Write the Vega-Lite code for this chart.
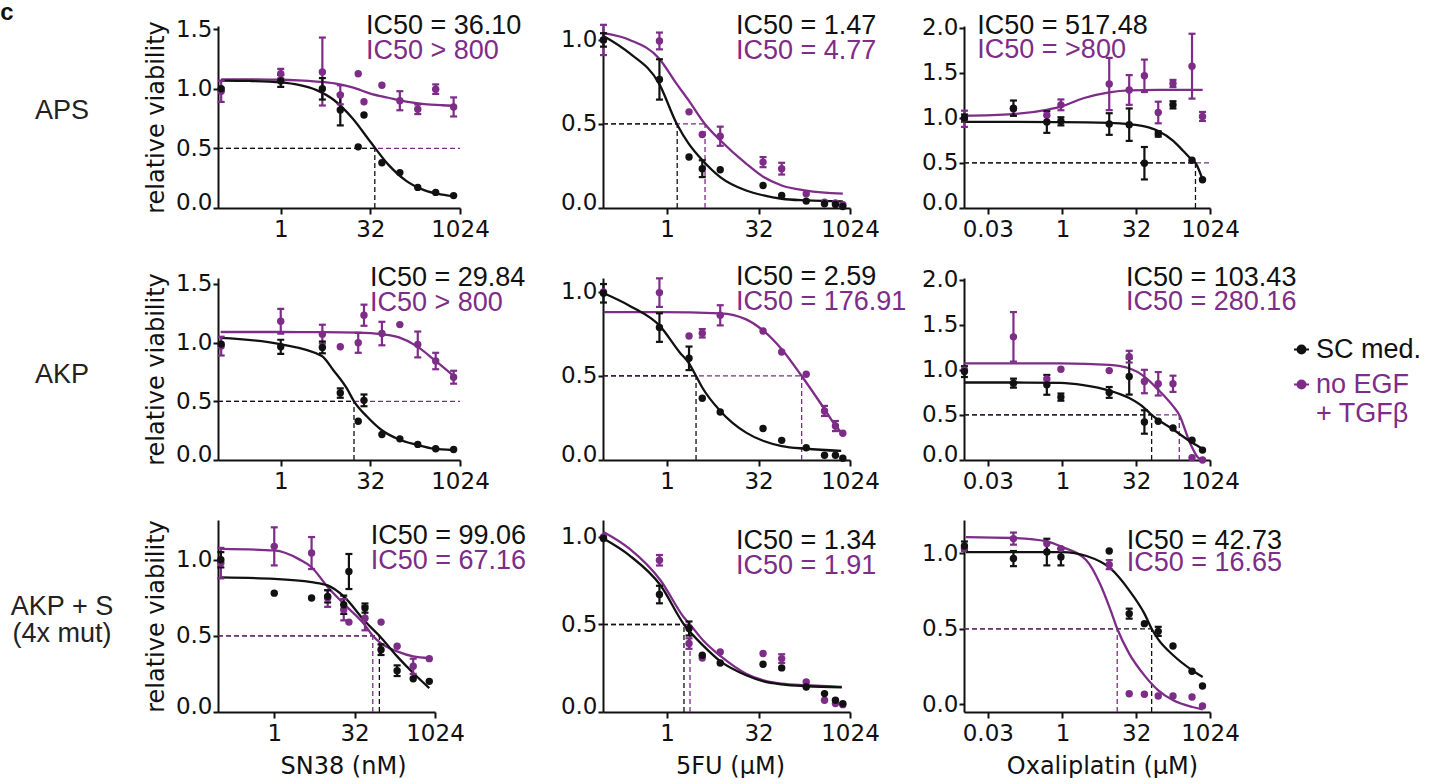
{
"$schema": "https://vega.github.io/schema/vega-lite/v6.json",
"padding": 0,
"background": "white",
"config": {
 "view": {"stroke": null},
 "axis": {"grid": false, "domainColor": "#111111", "domainWidth": 2, "tickColor": "#111111", "tickWidth": 2, "tickSize": 5, "labelColor": "#111111", "labelFont": "DejaVu Sans", "labelFontSize": 23, "labelFlush": false, "labelOverlap": false, "titleColor": "#111111", "titleFont": "DejaVu Sans", "titleFontSize": 24, "titleFontWeight": "normal"},
 "axisY": {"labelPadding": 1, "titlePadding": 7},
 "axisX": {"labelPadding": 4, "titlePadding": 9, "tickSize": 6}
},
"datasets": {
 "pts": [
  {"p":"p11","c":"EGF","d":0.1,"v":0.98,"lo":0.89,"hi":1.07},
  {"p":"p11","c":"EGF","d":1,"v":1.127,"lo":1.087,"hi":1.167},
  {"p":"p11","c":"EGF","d":5,"v":1.141,"lo":0.86,"hi":1.43},
  {"p":"p11","c":"EGF","d":10,"v":0.948,"lo":0.87,"hi":1.03},
  {"p":"p11","c":"EGF","d":20,"v":1.127},
  {"p":"p11","c":"EGF","d":25,"v":0.892},
  {"p":"p11","c":"EGF","d":50,"v":1.03},
  {"p":"p11","c":"EGF","d":100,"v":0.9,"lo":0.82,"hi":0.98},
  {"p":"p11","c":"EGF","d":200,"v":0.828,"lo":0.788,"hi":0.868},
  {"p":"p11","c":"EGF","d":400,"v":0.997,"lo":0.957,"hi":1.037},
  {"p":"p11","c":"EGF","d":800,"v":0.848,"lo":0.768,"hi":0.928},
  {"p":"p11","c":"SC","d":0.1,"v":1.0},
  {"p":"p11","c":"SC","d":1,"v":1.066,"lo":1.016,"hi":1.116},
  {"p":"p11","c":"SC","d":5,"v":1.0,"lo":0.91,"hi":1.09},
  {"p":"p11","c":"SC","d":10,"v":0.823,"lo":0.693,"hi":0.953},
  {"p":"p11","c":"SC","d":20,"v":0.513},
  {"p":"p11","c":"SC","d":25,"v":0.78},
  {"p":"p11","c":"SC","d":50,"v":0.38},
  {"p":"p11","c":"SC","d":100,"v":0.297},
  {"p":"p11","c":"SC","d":200,"v":0.173},
  {"p":"p11","c":"SC","d":400,"v":0.131},
  {"p":"p11","c":"SC","d":800,"v":0.104},

  {"p":"p12","c":"EGF","d":0.09,"v":1.0,"lo":0.91,"hi":1.09},
  {"p":"p12","c":"EGF","d":0.75,"v":0.994,"lo":0.944,"hi":1.044},
  {"p":"p12","c":"EGF","d":2.3,"v":0.572},
  {"p":"p12","c":"EGF","d":3.8,"v":0.437},
  {"p":"p12","c":"EGF","d":7.5,"v":0.427,"lo":0.37,"hi":0.484},
  {"p":"p12","c":"EGF","d":38,"v":0.273,"lo":0.243,"hi":0.303},
  {"p":"p12","c":"EGF","d":77,"v":0.234,"lo":0.199,"hi":0.269},
  {"p":"p12","c":"EGF","d":195,"v":0.085},
  {"p":"p12","c":"EGF","d":390,"v":0.035},
  {"p":"p12","c":"EGF","d":590,"v":0.03},
  {"p":"p12","c":"EGF","d":780,"v":0.02},
  {"p":"p12","c":"SC","d":0.09,"v":1.0,"lo":0.96,"hi":1.04},
  {"p":"p12","c":"SC","d":0.75,"v":0.765,"lo":0.645,"hi":0.885},
  {"p":"p12","c":"SC","d":2.3,"v":0.303},
  {"p":"p12","c":"SC","d":3.8,"v":0.234,"lo":0.184,"hi":0.284},
  {"p":"p12","c":"SC","d":7.5,"v":0.228},
  {"p":"p12","c":"SC","d":38,"v":0.134},
  {"p":"p12","c":"SC","d":77,"v":0.075},
  {"p":"p12","c":"SC","d":195,"v":0.041},
  {"p":"p12","c":"SC","d":390,"v":0.025},
  {"p":"p12","c":"SC","d":590,"v":0.021},
  {"p":"p12","c":"SC","d":780,"v":0.009},

  {"p":"p13","c":"EGF","d":0.01,"v":0.99,"lo":0.9,"hi":1.08},
  {"p":"p13","c":"EGF","d":0.1,"v":1.1},
  {"p":"p13","c":"EGF","d":0.48,"v":1.03},
  {"p":"p13","c":"EGF","d":0.93,"v":1.145,"lo":1.085,"hi":1.205},
  {"p":"p13","c":"EGF","d":9,"v":1.376,"lo":1.086,"hi":1.666},
  {"p":"p13","c":"EGF","d":23,"v":1.31,"lo":1.145,"hi":1.475},
  {"p":"p13","c":"EGF","d":47,"v":1.467,"lo":1.287,"hi":1.647},
  {"p":"p13","c":"EGF","d":90,"v":1.06,"lo":0.94,"hi":1.18},
  {"p":"p13","c":"EGF","d":180,"v":1.382,"lo":1.342,"hi":1.422},
  {"p":"p13","c":"EGF","d":440,"v":1.574,"lo":1.214,"hi":1.934},
  {"p":"p13","c":"EGF","d":720,"v":1.016,"lo":0.966,"hi":1.066},
  {"p":"p13","c":"SC","d":0.01,"v":0.998,"lo":0.958,"hi":1.038},
  {"p":"p13","c":"SC","d":0.1,"v":1.108,"lo":1.023,"hi":1.193},
  {"p":"p13","c":"SC","d":0.48,"v":0.954,"lo":0.834,"hi":1.074},
  {"p":"p13","c":"SC","d":0.93,"v":0.962,"lo":0.917,"hi":1.007},
  {"p":"p13","c":"SC","d":9,"v":0.932,"lo":0.812,"hi":1.052},
  {"p":"p13","c":"SC","d":23,"v":0.925,"lo":0.745,"hi":1.105},
  {"p":"p13","c":"SC","d":47,"v":0.497,"lo":0.317,"hi":0.677},
  {"p":"p13","c":"SC","d":90,"v":0.822,"lo":0.792,"hi":0.852},
  {"p":"p13","c":"SC","d":180,"v":1.145,"lo":1.105,"hi":1.185},
  {"p":"p13","c":"SC","d":440,"v":0.53},
  {"p":"p13","c":"SC","d":720,"v":0.313},

  {"p":"p21","c":"EGF","d":0.1,"v":0.97,"lo":0.89,"hi":1.05},
  {"p":"p21","c":"EGF","d":1,"v":1.182,"lo":1.077,"hi":1.287},
  {"p":"p21","c":"EGF","d":5,"v":1.072,"lo":0.992,"hi":1.152},
  {"p":"p21","c":"EGF","d":10,"v":0.964},
  {"p":"p21","c":"EGF","d":20,"v":0.998,"lo":0.913,"hi":1.083},
  {"p":"p21","c":"EGF","d":25,"v":1.233,"lo":1.143,"hi":1.323},
  {"p":"p21","c":"EGF","d":50,"v":1.077,"lo":0.977,"hi":1.177},
  {"p":"p21","c":"EGF","d":100,"v":1.153},
  {"p":"p21","c":"EGF","d":200,"v":0.984,"lo":0.874,"hi":1.094},
  {"p":"p21","c":"EGF","d":400,"v":0.843,"lo":0.773,"hi":0.913},
  {"p":"p21","c":"EGF","d":800,"v":0.705,"lo":0.65,"hi":0.76},
  {"p":"p21","c":"SC","d":0.1,"v":0.987},
  {"p":"p21","c":"SC","d":1,"v":0.964,"lo":0.904,"hi":1.024},
  {"p":"p21","c":"SC","d":5,"v":0.959,"lo":0.909,"hi":1.009},
  {"p":"p21","c":"SC","d":10,"v":0.57,"lo":0.53,"hi":0.61},
  {"p":"p21","c":"SC","d":20,"v":0.33},
  {"p":"p21","c":"SC","d":25,"v":0.508,"lo":0.458,"hi":0.558},
  {"p":"p21","c":"SC","d":50,"v":0.217},
  {"p":"p21","c":"SC","d":100,"v":0.18},
  {"p":"p21","c":"SC","d":200,"v":0.133},
  {"p":"p21","c":"SC","d":400,"v":0.096},
  {"p":"p21","c":"SC","d":800,"v":0.09},

  {"p":"p22","c":"EGF","d":0.09,"v":1.0},
  {"p":"p22","c":"EGF","d":0.75,"v":0.996,"lo":0.911,"hi":1.081},
  {"p":"p22","c":"EGF","d":2.3,"v":0.738},
  {"p":"p22","c":"EGF","d":3.8,"v":0.754,"lo":0.729,"hi":0.779},
  {"p":"p22","c":"EGF","d":7.5,"v":0.861,"lo":0.801,"hi":0.921},
  {"p":"p22","c":"EGF","d":38,"v":0.768},
  {"p":"p22","c":"EGF","d":77,"v":0.643},
  {"p":"p22","c":"EGF","d":195,"v":0.51},
  {"p":"p22","c":"EGF","d":390,"v":0.292,"lo":0.262,"hi":0.322},
  {"p":"p22","c":"EGF","d":590,"v":0.202,"lo":0.172,"hi":0.232},
  {"p":"p22","c":"EGF","d":780,"v":0.159},
  {"p":"p22","c":"SC","d":0.09,"v":0.992,"lo":0.937,"hi":1.047},
  {"p":"p22","c":"SC","d":0.75,"v":0.788,"lo":0.703,"hi":0.873},
  {"p":"p22","c":"SC","d":2.3,"v":0.605,"lo":0.535,"hi":0.675},
  {"p":"p22","c":"SC","d":3.8,"v":0.367},
  {"p":"p22","c":"SC","d":7.5,"v":0.286},
  {"p":"p22","c":"SC","d":38,"v":0.187},
  {"p":"p22","c":"SC","d":77,"v":0.117},
  {"p":"p22","c":"SC","d":195,"v":0.073},
  {"p":"p22","c":"SC","d":390,"v":0.028},
  {"p":"p22","c":"SC","d":590,"v":0.028},
  {"p":"p22","c":"SC","d":780,"v":0.01},

  {"p":"p23","c":"EGF","d":0.01,"v":1.0},
  {"p":"p23","c":"EGF","d":0.1,"v":1.367,"lo":1.092,"hi":1.642},
  {"p":"p23","c":"EGF","d":0.48,"v":0.9},
  {"p":"p23","c":"EGF","d":0.93,"v":1.007},
  {"p":"p23","c":"EGF","d":9,"v":0.992},
  {"p":"p23","c":"EGF","d":23,"v":1.147,"lo":1.082,"hi":1.212},
  {"p":"p23","c":"EGF","d":47,"v":0.871,"lo":0.741,"hi":1.001},
  {"p":"p23","c":"EGF","d":90,"v":0.846,"lo":0.716,"hi":0.976},
  {"p":"p23","c":"EGF","d":180,"v":0.846,"lo":0.756,"hi":0.936},
  {"p":"p23","c":"EGF","d":440,"v":0.026},
  {"p":"p23","c":"EGF","d":720,"v":0.0},
  {"p":"p23","c":"SC","d":0.01,"v":0.981,"lo":0.921,"hi":1.041},
  {"p":"p23","c":"SC","d":0.1,"v":0.853,"lo":0.803,"hi":0.903},
  {"p":"p23","c":"SC","d":0.48,"v":0.834,"lo":0.724,"hi":0.944},
  {"p":"p23","c":"SC","d":0.93,"v":0.698,"lo":0.658,"hi":0.738},
  {"p":"p23","c":"SC","d":9,"v":0.75,"lo":0.69,"hi":0.81},
  {"p":"p23","c":"SC","d":23,"v":0.926,"lo":0.726,"hi":1.126},
  {"p":"p23","c":"SC","d":47,"v":0.422,"lo":0.292,"hi":0.552},
  {"p":"p23","c":"SC","d":90,"v":0.43},
  {"p":"p23","c":"SC","d":180,"v":0.356},
  {"p":"p23","c":"SC","d":440,"v":0.22},
  {"p":"p23","c":"SC","d":720,"v":0.11},

  {"p":"p31","c":"EGF","d":0.1,"v":0.977,"lo":0.877,"hi":1.077},
  {"p":"p31","c":"EGF","d":1,"v":1.087,"lo":0.962,"hi":1.212},
  {"p":"p31","c":"EGF","d":5,"v":1.043,"lo":0.938,"hi":1.148},
  {"p":"p31","c":"EGF","d":10,"v":0.748,"lo":0.69,"hi":0.8},
  {"p":"p31","c":"EGF","d":20,"v":0.671,"lo":0.601,"hi":0.741},
  {"p":"p31","c":"EGF","d":25,"v":0.59},
  {"p":"p31","c":"EGF","d":50,"v":0.616,"lo":0.536,"hi":0.696},
  {"p":"p31","c":"EGF","d":100,"v":0.59},
  {"p":"p31","c":"EGF","d":200,"v":0.431},
  {"p":"p31","c":"EGF","d":400,"v":0.3,"lo":0.25,"hi":0.35},
  {"p":"p31","c":"EGF","d":800,"v":0.35},
  {"p":"p31","c":"SC","d":0.1,"v":0.999,"lo":0.949,"hi":1.049},
  {"p":"p31","c":"SC","d":1,"v":0.78},
  {"p":"p31","c":"SC","d":5,"v":0.748},
  {"p":"p31","c":"SC","d":10,"v":0.759,"lo":0.719,"hi":0.799},
  {"p":"p31","c":"SC","d":20,"v":0.704,"lo":0.644,"hi":0.764},
  {"p":"p31","c":"SC","d":25,"v":0.922,"lo":0.807,"hi":1.037},
  {"p":"p31","c":"SC","d":50,"v":0.682,"lo":0.652,"hi":0.712},
  {"p":"p31","c":"SC","d":100,"v":0.409,"lo":0.374,"hi":0.444},
  {"p":"p31","c":"SC","d":200,"v":0.271,"lo":0.236,"hi":0.306},
  {"p":"p31","c":"SC","d":400,"v":0.218},
  {"p":"p31","c":"SC","d":800,"v":0.201},

  {"p":"p32","c":"EGF","d":0.09,"v":1.0},
  {"p":"p32","c":"EGF","d":0.75,"v":0.867,"lo":0.837,"hi":0.897},
  {"p":"p32","c":"EGF","d":2.3,"v":0.391,"lo":0.361,"hi":0.421},
  {"p":"p32","c":"EGF","d":3.8,"v":0.309},
  {"p":"p32","c":"EGF","d":7.5,"v":0.343},
  {"p":"p32","c":"EGF","d":38,"v":0.334},
  {"p":"p32","c":"EGF","d":77,"v":0.305,"lo":0.28,"hi":0.33},
  {"p":"p32","c":"EGF","d":195,"v":0.171},
  {"p":"p32","c":"EGF","d":390,"v":0.067},
  {"p":"p32","c":"EGF","d":590,"v":0.048},
  {"p":"p32","c":"EGF","d":780,"v":0.042},
  {"p":"p32","c":"SC","d":0.09,"v":0.991},
  {"p":"p32","c":"SC","d":0.75,"v":0.671,"lo":0.621,"hi":0.721},
  {"p":"p32","c":"SC","d":2.3,"v":0.477,"lo":0.437,"hi":0.517},
  {"p":"p32","c":"SC","d":3.8,"v":0.324},
  {"p":"p32","c":"SC","d":7.5,"v":0.28},
  {"p":"p32","c":"SC","d":38,"v":0.273},
  {"p":"p32","c":"SC","d":77,"v":0.252},
  {"p":"p32","c":"SC","d":195,"v":0.143},
  {"p":"p32","c":"SC","d":390,"v":0.105},
  {"p":"p32","c":"SC","d":590,"v":0.067},
  {"p":"p32","c":"SC","d":780,"v":0.048},

  {"p":"p33","c":"EGF","d":0.01,"v":1.03},
  {"p":"p33","c":"EGF","d":0.1,"v":1.096,"lo":1.056,"hi":1.136},
  {"p":"p33","c":"EGF","d":0.48,"v":1.063},
  {"p":"p33","c":"EGF","d":0.93,"v":1.03},
  {"p":"p33","c":"EGF","d":9,"v":0.924,"lo":0.894,"hi":0.954},
  {"p":"p33","c":"EGF","d":23,"v":0.071},
  {"p":"p33","c":"EGF","d":47,"v":0.067},
  {"p":"p33","c":"EGF","d":90,"v":0.056},
  {"p":"p33","c":"EGF","d":180,"v":0.056},
  {"p":"p33","c":"EGF","d":440,"v":0.049},
  {"p":"p33","c":"EGF","d":720,"v":-0.01},
  {"p":"p33","c":"SC","d":0.01,"v":1.047,"lo":1.017,"hi":1.077},
  {"p":"p33","c":"SC","d":0.1,"v":0.964,"lo":0.914,"hi":1.014},
  {"p":"p33","c":"SC","d":0.48,"v":1.007,"lo":0.919,"hi":1.095},
  {"p":"p33","c":"SC","d":0.93,"v":0.974,"lo":0.919,"hi":1.029},
  {"p":"p33","c":"SC","d":9,"v":1.014},
  {"p":"p33","c":"SC","d":23,"v":0.6,"lo":0.567,"hi":0.633},
  {"p":"p33","c":"SC","d":47,"v":0.534},
  {"p":"p33","c":"SC","d":90,"v":0.483,"lo":0.453,"hi":0.513},
  {"p":"p33","c":"SC","d":180,"v":0.386},
  {"p":"p33","c":"SC","d":440,"v":0.219},
  {"p":"p33","c":"SC","d":720,"v":0.122}
 ],
 "crv": [
  {"p":"p11","c":"EGF","d":0.1,"v":1.08},{"p":"p11","c":"EGF","d":0.3,"v":1.079},{"p":"p11","c":"EGF","d":1,"v":1.076},{"p":"p11","c":"EGF","d":2,"v":1.07},{"p":"p11","c":"EGF","d":4,"v":1.06},{"p":"p11","c":"EGF","d":8,"v":1.045},{"p":"p11","c":"EGF","d":16,"v":1.012},{"p":"p11","c":"EGF","d":32,"v":0.96},{"p":"p11","c":"EGF","d":64,"v":0.925},{"p":"p11","c":"EGF","d":128,"v":0.892},{"p":"p11","c":"EGF","d":256,"v":0.872},{"p":"p11","c":"EGF","d":512,"v":0.862},{"p":"p11","c":"EGF","d":800,"v":0.858},
  {"p":"p11","c":"SC","d":0.1,"v":1.069},{"p":"p11","c":"SC","d":0.3,"v":1.066},{"p":"p11","c":"SC","d":1,"v":1.054},{"p":"p11","c":"SC","d":2,"v":1.033},{"p":"p11","c":"SC","d":4,"v":0.989},{"p":"p11","c":"SC","d":8,"v":0.902},{"p":"p11","c":"SC","d":16,"v":0.753},{"p":"p11","c":"SC","d":32,"v":0.556},{"p":"p11","c":"SC","d":64,"v":0.364},{"p":"p11","c":"SC","d":128,"v":0.228},{"p":"p11","c":"SC","d":256,"v":0.15},{"p":"p11","c":"SC","d":512,"v":0.112},{"p":"p11","c":"SC","d":800,"v":0.099},

  {"p":"p12","c":"EGF","d":0.09,"v":1.04},{"p":"p12","c":"EGF","d":0.244,"v":1.0},{"p":"p12","c":"EGF","d":0.74,"v":0.89},{"p":"p12","c":"EGF","d":1.43,"v":0.74},{"p":"p12","c":"EGF","d":2.27,"v":0.64},{"p":"p12","c":"EGF","d":4.2,"v":0.5},{"p":"p12","c":"EGF","d":7.5,"v":0.403},{"p":"p12","c":"EGF","d":20,"v":0.264},{"p":"p12","c":"EGF","d":38.8,"v":0.184},{"p":"p12","c":"EGF","d":77,"v":0.134},{"p":"p12","c":"EGF","d":195,"v":0.104},{"p":"p12","c":"EGF","d":780,"v":0.085},
  {"p":"p12","c":"SC","d":0.09,"v":1.024},{"p":"p12","c":"SC","d":0.244,"v":0.92},{"p":"p12","c":"SC","d":0.74,"v":0.74},{"p":"p12","c":"SC","d":1.45,"v":0.5},{"p":"p12","c":"SC","d":2.27,"v":0.383},{"p":"p12","c":"SC","d":3.82,"v":0.284},{"p":"p12","c":"SC","d":7.5,"v":0.184},{"p":"p12","c":"SC","d":20,"v":0.104},{"p":"p12","c":"SC","d":38.8,"v":0.075},{"p":"p12","c":"SC","d":77,"v":0.055},{"p":"p12","c":"SC","d":195,"v":0.045},{"p":"p12","c":"SC","d":780,"v":0.039},

  {"p":"p13","c":"EGF","d":0.0098,"v":1.024},{"p":"p13","c":"EGF","d":0.096,"v":1.042},{"p":"p13","c":"EGF","d":0.476,"v":1.09},{"p":"p13","c":"EGF","d":0.93,"v":1.126},{"p":"p13","c":"EGF","d":2.66,"v":1.218},{"p":"p13","c":"EGF","d":9,"v":1.284},{"p":"p13","c":"EGF","d":23,"v":1.305},{"p":"p13","c":"EGF","d":90,"v":1.31},{"p":"p13","c":"EGF","d":726,"v":1.31},
  {"p":"p13","c":"SC","d":0.0098,"v":0.955},{"p":"p13","c":"SC","d":0.096,"v":0.955},{"p":"p13","c":"SC","d":0.93,"v":0.954},{"p":"p13","c":"SC","d":9,"v":0.945},{"p":"p13","c":"SC","d":23,"v":0.93},{"p":"p13","c":"SC","d":47,"v":0.905},{"p":"p13","c":"SC","d":90,"v":0.855},{"p":"p13","c":"SC","d":182,"v":0.745},{"p":"p13","c":"SC","d":292,"v":0.632},{"p":"p13","c":"SC","d":446,"v":0.53},{"p":"p13","c":"SC","d":517,"v":0.5},{"p":"p13","c":"SC","d":726,"v":0.313},

  {"p":"p21","c":"EGF","d":0.098,"v":1.09},{"p":"p21","c":"EGF","d":1,"v":1.09},{"p":"p21","c":"EGF","d":5,"v":1.089},{"p":"p21","c":"EGF","d":20,"v":1.085},{"p":"p21","c":"EGF","d":48,"v":1.072},{"p":"p21","c":"EGF","d":97,"v":1.045},{"p":"p21","c":"EGF","d":192,"v":0.97},{"p":"p21","c":"EGF","d":380,"v":0.852},{"p":"p21","c":"EGF","d":760,"v":0.725},
  {"p":"p21","c":"SC","d":0.098,"v":1.04},{"p":"p21","c":"SC","d":0.97,"v":0.987},{"p":"p21","c":"SC","d":4.9,"v":0.886},{"p":"p21","c":"SC","d":7.6,"v":0.767},{"p":"p21","c":"SC","d":12.8,"v":0.612},{"p":"p21","c":"SC","d":17,"v":0.5},{"p":"p21","c":"SC","d":27.8,"v":0.372},{"p":"p21","c":"SC","d":48,"v":0.26},{"p":"p21","c":"SC","d":97,"v":0.175},{"p":"p21","c":"SC","d":192,"v":0.13},{"p":"p21","c":"SC","d":380,"v":0.096},{"p":"p21","c":"SC","d":760,"v":0.085},

  {"p":"p22","c":"EGF","d":0.091,"v":0.88},{"p":"p22","c":"EGF","d":0.76,"v":0.88},{"p":"p22","c":"EGF","d":7.5,"v":0.873},{"p":"p22","c":"EGF","d":20,"v":0.837},{"p":"p22","c":"EGF","d":38.8,"v":0.768},{"p":"p22","c":"EGF","d":77,"v":0.659},{"p":"p22","c":"EGF","d":164,"v":0.5},{"p":"p22","c":"EGF","d":376,"v":0.311},{"p":"p22","c":"EGF","d":570,"v":0.212},{"p":"p22","c":"EGF","d":733,"v":0.165},
  {"p":"p22","c":"SC","d":0.091,"v":0.992},{"p":"p22","c":"SC","d":0.244,"v":0.917},{"p":"p22","c":"SC","d":0.76,"v":0.798},{"p":"p22","c":"SC","d":1.62,"v":0.64},{"p":"p22","c":"SC","d":2.3,"v":0.575},{"p":"p22","c":"SC","d":3.0,"v":0.5},{"p":"p22","c":"SC","d":3.82,"v":0.43},{"p":"p22","c":"SC","d":7.5,"v":0.292},{"p":"p22","c":"SC","d":20,"v":0.163},{"p":"p22","c":"SC","d":38.8,"v":0.113},{"p":"p22","c":"SC","d":77,"v":0.083},{"p":"p22","c":"SC","d":195,"v":0.067},{"p":"p22","c":"SC","d":733,"v":0.054},

  {"p":"p23","c":"EGF","d":0.0098,"v":1.073},{"p":"p23","c":"EGF","d":0.93,"v":1.072},{"p":"p23","c":"EGF","d":9,"v":1.055},{"p":"p23","c":"EGF","d":23,"v":1.018},{"p":"p23","c":"EGF","d":47,"v":0.926},{"p":"p23","c":"EGF","d":90,"v":0.78},{"p":"p23","c":"EGF","d":182,"v":0.595},{"p":"p23","c":"EGF","d":242,"v":0.5},{"p":"p23","c":"EGF","d":400,"v":0.19},{"p":"p23","c":"EGF","d":588,"v":0.025},{"p":"p23","c":"EGF","d":690,"v":0.0},
  {"p":"p23","c":"SC","d":0.0098,"v":0.86},{"p":"p23","c":"SC","d":0.096,"v":0.86},{"p":"p23","c":"SC","d":0.93,"v":0.855},{"p":"p23","c":"SC","d":2.66,"v":0.83},{"p":"p23","c":"SC","d":9,"v":0.77},{"p":"p23","c":"SC","d":23,"v":0.687},{"p":"p23","c":"SC","d":47,"v":0.577},{"p":"p23","c":"SC","d":66,"v":0.5},{"p":"p23","c":"SC","d":182,"v":0.338},{"p":"p23","c":"SC","d":446,"v":0.191},{"p":"p23","c":"SC","d":726,"v":0.125},

  {"p":"p31","c":"EGF","d":0.1,"v":1.071},{"p":"p31","c":"EGF","d":1,"v":1.06},{"p":"p31","c":"EGF","d":3,"v":1.0},{"p":"p31","c":"EGF","d":5,"v":0.95},{"p":"p31","c":"EGF","d":10,"v":0.82},{"p":"p31","c":"EGF","d":20,"v":0.71},{"p":"p31","c":"EGF","d":50,"v":0.57},{"p":"p31","c":"EGF","d":70,"v":0.5},{"p":"p31","c":"EGF","d":100,"v":0.45},{"p":"p31","c":"EGF","d":200,"v":0.398},{"p":"p31","c":"EGF","d":400,"v":0.365},{"p":"p31","c":"EGF","d":800,"v":0.354},
  {"p":"p31","c":"SC","d":0.1,"v":0.883},{"p":"p31","c":"SC","d":1,"v":0.874},{"p":"p31","c":"SC","d":5,"v":0.852},{"p":"p31","c":"SC","d":10,"v":0.831},{"p":"p31","c":"SC","d":20,"v":0.759},{"p":"p31","c":"SC","d":50,"v":0.595},{"p":"p31","c":"SC","d":93,"v":0.5},{"p":"p31","c":"SC","d":200,"v":0.365},{"p":"p31","c":"SC","d":400,"v":0.256},{"p":"p31","c":"SC","d":800,"v":0.157},

  {"p":"p32","c":"EGF","d":0.09,"v":1.029},{"p":"p32","c":"EGF","d":0.24,"v":0.934},{"p":"p32","c":"EGF","d":0.78,"v":0.753},{"p":"p32","c":"EGF","d":1.9,"v":0.54},{"p":"p32","c":"EGF","d":2.39,"v":0.5},{"p":"p32","c":"EGF","d":3.9,"v":0.41},{"p":"p32","c":"EGF","d":7.8,"v":0.316},{"p":"p32","c":"EGF","d":20,"v":0.219},{"p":"p32","c":"EGF","d":38.8,"v":0.181},{"p":"p32","c":"EGF","d":77,"v":0.162},{"p":"p32","c":"EGF","d":195,"v":0.153},{"p":"p32","c":"EGF","d":750,"v":0.143},
  {"p":"p32","c":"SC","d":0.09,"v":0.991},{"p":"p32","c":"SC","d":0.24,"v":0.895},{"p":"p32","c":"SC","d":0.78,"v":0.724},{"p":"p32","c":"SC","d":1.9,"v":0.5},{"p":"p32","c":"SC","d":3.9,"v":0.381},{"p":"p32","c":"SC","d":7.8,"v":0.286},{"p":"p32","c":"SC","d":20,"v":0.21},{"p":"p32","c":"SC","d":38.8,"v":0.175},{"p":"p32","c":"SC","d":77,"v":0.158},{"p":"p32","c":"SC","d":195,"v":0.147},{"p":"p32","c":"SC","d":750,"v":0.141},

  {"p":"p33","c":"EGF","d":0.0107,"v":1.106},{"p":"p33","c":"EGF","d":0.096,"v":1.1},{"p":"p33","c":"EGF","d":0.476,"v":1.078},{"p":"p33","c":"EGF","d":1,"v":1.04},{"p":"p33","c":"EGF","d":3.1,"v":0.952},{"p":"p33","c":"EGF","d":5.8,"v":0.8},{"p":"p33","c":"EGF","d":9.3,"v":0.635},{"p":"p33","c":"EGF","d":13.1,"v":0.5},{"p":"p33","c":"EGF","d":23,"v":0.336},{"p":"p33","c":"EGF","d":47,"v":0.192},{"p":"p33","c":"EGF","d":90,"v":0.093},{"p":"p33","c":"EGF","d":182,"v":0.027},{"p":"p33","c":"EGF","d":446,"v":-0.017},{"p":"p33","c":"EGF","d":726,"v":-0.032},
  {"p":"p33","c":"SC","d":0.0107,"v":1.007},{"p":"p33","c":"SC","d":1,"v":1.007},{"p":"p33","c":"SC","d":3.1,"v":0.981},{"p":"p33","c":"SC","d":9.3,"v":0.902},{"p":"p33","c":"SC","d":23,"v":0.754},{"p":"p33","c":"SC","d":47,"v":0.6},{"p":"p33","c":"SC","d":66,"v":0.5},{"p":"p33","c":"SC","d":90,"v":0.43},{"p":"p33","c":"SC","d":182,"v":0.325},{"p":"p33","c":"SC","d":446,"v":0.225},{"p":"p33","c":"SC","d":726,"v":0.181}
 ],
 "ln": [
  {"p":"p11","c":"EGF","d0":0.0884,"d1":1024,"y0":0,"h":0.5,"vert":false},
  {"p":"p11","c":"SC","d0":0.0884,"d1":38,"y0":0,"h":0.5,"vert":true},
  {"p":"p12","c":"EGF","d0":0.0884,"d1":4.22,"y0":0,"h":0.5,"vert":true},
  {"p":"p12","c":"SC","d0":0.0884,"d1":1.47,"y0":0,"h":0.5,"vert":true},
  {"p":"p13","c":"EGF","d0":0.0098,"d1":1024,"y0":0,"h":0.5,"vert":false},
  {"p":"p13","c":"SC","d0":0.0098,"d1":517.48,"y0":0,"h":0.5,"vert":true},
  {"p":"p21","c":"EGF","d0":0.0884,"d1":1024,"y0":0,"h":0.5,"vert":false},
  {"p":"p21","c":"SC","d0":0.0884,"d1":17,"y0":0,"h":0.5,"vert":true},
  {"p":"p22","c":"EGF","d0":0.0884,"d1":164,"y0":0,"h":0.5,"vert":true},
  {"p":"p22","c":"SC","d0":0.0884,"d1":3.0,"y0":0,"h":0.5,"vert":true},
  {"p":"p23","c":"EGF","d0":0.0098,"d1":242,"y0":0,"h":0.5,"vert":true},
  {"p":"p23","c":"SC","d0":0.0098,"d1":66,"y0":0,"h":0.5,"vert":true},
  {"p":"p31","c":"SC","d0":0.0884,"d1":93,"y0":0,"h":0.5,"vert":true},
  {"p":"p31","c":"EGF","d0":0.0884,"d1":70,"y0":0,"h":0.5,"vert":true},
  {"p":"p32","c":"EGF","d0":0.0884,"d1":2.39,"y0":0,"h":0.5,"vert":true},
  {"p":"p32","c":"SC","d0":0.0884,"d1":1.9,"y0":0,"h":0.5,"vert":true},
  {"p":"p33","c":"SC","d0":0.0098,"d1":66,"y0":-0.05,"h":0.5,"vert":true},
  {"p":"p33","c":"EGF","d0":0.0098,"d1":13.1,"y0":-0.05,"h":0.5,"vert":true}
 ],
 "txt": [
  {"p":"p11","c":"SC","d":27.0,"v":1.464,"t":"IC50 = 36.10"},
  {"p":"p11","c":"EGF","d":27.0,"v":1.254,"t":"IC50 > 800"},
  {"p":"p12","c":"SC","d":13.6,"v":1.037,"t":"IC50 = 1.47"},
  {"p":"p12","c":"EGF","d":13.6,"v":0.888,"t":"IC50 = 4.77"},
  {"p":"p13","c":"SC","d":0.0183,"v":1.933,"t":"IC50 = 517.48"},
  {"p":"p13","c":"EGF","d":0.0183,"v":1.667,"t":"IC50 = >800"},
  {"p":"p21","c":"SC","d":31.5,"v":1.482,"t":"IC50 = 29.84"},
  {"p":"p21","c":"EGF","d":31.5,"v":1.269,"t":"IC50 > 800"},
  {"p":"p22","c":"SC","d":13.6,"v":1.04,"t":"IC50 = 2.59"},
  {"p":"p22","c":"EGF","d":13.6,"v":0.893,"t":"IC50 = 176.91"},
  {"p":"p23","c":"SC","d":19.8,"v":1.931,"t":"IC50 = 103.43"},
  {"p":"p23","c":"EGF","d":19.8,"v":1.665,"t":"IC50 = 280.16"},
  {"p":"p31","c":"SC","d":64,"v":1.1,"t":"IC50 = 99.06"},
  {"p":"p31","c":"EGF","d":64,"v":0.936,"t":"IC50 = 67.16"},
  {"p":"p32","c":"SC","d":13.6,"v":0.933,"t":"IC50 = 1.34"},
  {"p":"p32","c":"EGF","d":13.6,"v":0.787,"t":"IC50 = 1.91"},
  {"p":"p33","c":"SC","d":20.4,"v":1.029,"t":"IC50 = 42.73"},
  {"p":"p33","c":"EGF","d":20.4,"v":0.882,"t":"IC50 = 16.65"}
 ]
},
"resolve": {"scale": {"x": "independent", "y": "independent", "color": "shared"}, "legend": {"color": "shared"}},
"columns": 7,
"spacing": 0,
"bounds": "flush",
"align": "each",
"concat": [
 {"width": 14, "height": 25.5, "data": {"values": [{"t": "c"}]}, "mark": {"type": "text", "font": "Liberation Sans", "fontSize": 24, "fontWeight": "bold", "align": "center", "baseline": "middle", "color": "#111111"}, "encoding": {"text": {"field": "t"}}},
 {"width": 1, "height": 1, "data": {"values": []}, "mark": {"type": "point", "opacity": 0}},
 {"width": 1, "height": 1, "data": {"values": []}, "mark": {"type": "point", "opacity": 0}},
 {"width": 1, "height": 1, "data": {"values": []}, "mark": {"type": "point", "opacity": 0}},
 {"width": 1, "height": 1, "data": {"values": []}, "mark": {"type": "point", "opacity": 0}},
 {"width": 1, "height": 1, "data": {"values": []}, "mark": {"type": "point", "opacity": 0}},
 {"width": 1, "height": 1, "data": {"values": []}, "mark": {"type": "point", "opacity": 0}},

 {"width": 124, "height": 169, "data": {"values": [{"t": "APS"}]}, "mark": {"type": "text", "font": "Liberation Sans", "fontSize": 27, "align": "center", "baseline": "middle", "color": "#222222"}, "encoding": {"text": {"field": "t"}}},
 {"width": 94, "height": 251.5, "data": {"values": []}, "mark": {"type": "point", "opacity": 0}},
 {"width": 242, "height": 182, "layer": [
  {"data": {"name": "ln"}, "transform": [{"filter": "datum.p == 'p11'"}], "mark": {"type": "rule", "strokeDash": [5, 3], "strokeWidth": 1.3},
   "encoding": {"x": {"field": "d0", "type": "quantitative", "scale": {"type": "log", "base": 2, "domain": [0.0884, 1024], "nice": false}, "axis": {"values": [1, 32, 1024], "labelExpr": "datum.value < 0.1 ? '0.03' : '' + datum.value"}, "title": null}, "x2": {"field": "d1"},
    "y": {"field": "h", "type": "quantitative", "scale": {"domain": [0, 1.527], "nice": false, "zero": false}, "axis": {"values": [0, 0.5, 1, 1.5], "format": ".1f", "labelOffset": {"condition": {"test": "datum.value == 0", "value": -6}, "value": 0}}, "title": "relative viability"},
    "color": {"field": "c", "type": "nominal", "scale": {"domain": ["SC", "EGF"], "range": ["#111111", "#7d2c88"]}}}},
  {"data": {"name": "ln"}, "transform": [{"filter": "datum.p == 'p11' && datum.vert"}], "mark": {"type": "rule", "strokeDash": [5, 3], "strokeWidth": 1.3},
   "encoding": {"x": {"field": "d1", "type": "quantitative", "title": null}, "y": {"field": "y0", "type": "quantitative", "title": "relative viability"}, "y2": {"field": "h"}, "color": {"field": "c", "type": "nominal"}}},
  {"data": {"name": "crv"}, "transform": [{"filter": "datum.p == 'p11'"}], "mark": {"type": "line", "interpolate": "monotone", "strokeWidth": 2.3},
   "encoding": {"x": {"field": "d", "type": "quantitative", "title": null}, "y": {"field": "v", "type": "quantitative", "title": "relative viability"}, "color": {"field": "c", "type": "nominal"}}},
  {"data": {"name": "pts"}, "transform": [{"filter": "datum.p == 'p11' && datum.lo != null"}], "mark": {"type": "rule", "strokeWidth": 2.2},
   "encoding": {"x": {"field": "d", "type": "quantitative", "title": null}, "y": {"field": "lo", "type": "quantitative", "title": "relative viability"}, "y2": {"field": "hi"}, "color": {"field": "c", "type": "nominal"}}},
  {"data": {"name": "pts"}, "transform": [{"filter": "datum.p == 'p11' && datum.lo != null"}, {"fold": ["lo", "hi"], "as": ["k", "e"]}], "mark": {"type": "tick", "orient": "horizontal", "size": 7, "thickness": 2.2, "opacity": 1},
   "encoding": {"x": {"field": "d", "type": "quantitative", "title": null}, "y": {"field": "e", "type": "quantitative", "title": "relative viability"}, "color": {"field": "c", "type": "nominal"}}},
  {"data": {"name": "pts"}, "transform": [{"filter": "datum.p == 'p11'"}], "mark": {"type": "point", "filled": true, "size": 55, "opacity": 1},
   "encoding": {"x": {"field": "d", "type": "quantitative", "title": null}, "y": {"field": "v", "type": "quantitative", "title": "relative viability"},
    "color": {"field": "c", "type": "nominal", "legend": {"orient": "none", "legendX": 1288, "legendY": 336, "direction": "vertical", "title": null, "labelFont": "Liberation Sans", "labelFontSize": 27, "labelBaseline": "middle", "labelOffset": 1, "rowPadding": 7, "symbolType": "M-1,0L1,0M-0.53,0A0.53,0.53,0,1,0,0.53,0A0.53,0.53,0,1,0,-0.53,0", "symbolSize": 225, "symbolStrokeWidth": 2, "symbolOpacity": 1, "labelExpr": "datum.value == 'EGF' ? ['no EGF', '+ TGFβ'] : 'SC med.'",
      "encode": {"labels": {"update": {"fill": {"signal": "datum.value == 'EGF' ? '#7d2c88' : '#111111'"}}}, "symbols": {"update": {"fill": {"signal": "datum.value == 'EGF' ? '#7d2c88' : '#111111'"}, "stroke": {"signal": "datum.value == 'EGF' ? '#7d2c88' : '#111111'"}}}}}}}},
  {"data": {"name": "txt"}, "transform": [{"filter": "datum.p == 'p11'"}], "mark": {"type": "text", "align": "left", "baseline": "alphabetic", "font": "Liberation Sans", "fontSize": 27},
   "encoding": {"x": {"field": "d", "type": "quantitative", "title": null}, "y": {"field": "v", "type": "quantitative", "title": "relative viability"}, "text": {"field": "t"}, "color": {"field": "c", "type": "nominal"}}}
 ]},
 {"width": 143, "height": 1, "data": {"values": []}, "mark": {"type": "point", "opacity": 0}},
 {"width": 247, "height": 182, "layer": [
  {"data": {"name": "ln"}, "transform": [{"filter": "datum.p == 'p12'"}], "mark": {"type": "rule", "strokeDash": [5, 3], "strokeWidth": 1.3},
   "encoding": {"x": {"field": "d0", "type": "quantitative", "scale": {"type": "log", "base": 2, "domain": [0.0884, 1024], "nice": false}, "axis": {"values": [1, 32, 1024], "labelExpr": "datum.value < 0.1 ? '0.03' : '' + datum.value"}, "title": null}, "x2": {"field": "d1"},
    "y": {"field": "h", "type": "quantitative", "scale": {"domain": [0, 1.083], "nice": false, "zero": false}, "axis": {"values": [0, 0.5, 1], "format": ".1f", "labelOffset": {"condition": {"test": "datum.value == 0", "value": -6}, "value": 0}}, "title": null},
    "color": {"field": "c", "type": "nominal", "scale": {"domain": ["SC", "EGF"], "range": ["#111111", "#7d2c88"]}}}},
  {"data": {"name": "ln"}, "transform": [{"filter": "datum.p == 'p12' && datum.vert"}], "mark": {"type": "rule", "strokeDash": [5, 3], "strokeWidth": 1.3},
   "encoding": {"x": {"field": "d1", "type": "quantitative", "title": null}, "y": {"field": "y0", "type": "quantitative", "title": null}, "y2": {"field": "h"}, "color": {"field": "c", "type": "nominal"}}},
  {"data": {"name": "crv"}, "transform": [{"filter": "datum.p == 'p12'"}], "mark": {"type": "line", "interpolate": "monotone", "strokeWidth": 2.3},
   "encoding": {"x": {"field": "d", "type": "quantitative", "title": null}, "y": {"field": "v", "type": "quantitative", "title": null}, "color": {"field": "c", "type": "nominal"}}},
  {"data": {"name": "pts"}, "transform": [{"filter": "datum.p == 'p12' && datum.lo != null"}], "mark": {"type": "rule", "strokeWidth": 2.2},
   "encoding": {"x": {"field": "d", "type": "quantitative", "title": null}, "y": {"field": "lo", "type": "quantitative", "title": null}, "y2": {"field": "hi"}, "color": {"field": "c", "type": "nominal"}}},
  {"data": {"name": "pts"}, "transform": [{"filter": "datum.p == 'p12' && datum.lo != null"}, {"fold": ["lo", "hi"], "as": ["k", "e"]}], "mark": {"type": "tick", "orient": "horizontal", "size": 7, "thickness": 2.2, "opacity": 1},
   "encoding": {"x": {"field": "d", "type": "quantitative", "title": null}, "y": {"field": "e", "type": "quantitative", "title": null}, "color": {"field": "c", "type": "nominal"}}},
  {"data": {"name": "pts"}, "transform": [{"filter": "datum.p == 'p12'"}], "mark": {"type": "point", "filled": true, "size": 55, "opacity": 1},
   "encoding": {"x": {"field": "d", "type": "quantitative", "title": null}, "y": {"field": "v", "type": "quantitative", "title": null}, "color": {"field": "c", "type": "nominal"}}},
  {"data": {"name": "txt"}, "transform": [{"filter": "datum.p == 'p12'"}], "mark": {"type": "text", "align": "left", "baseline": "alphabetic", "font": "Liberation Sans", "fontSize": 27},
   "encoding": {"x": {"field": "d", "type": "quantitative", "title": null}, "y": {"field": "v", "type": "quantitative", "title": null}, "text": {"field": "t"}, "color": {"field": "c", "type": "nominal"}}}
 ]},
 {"width": 114, "height": 1, "data": {"values": []}, "mark": {"type": "point", "opacity": 0}},
 {"width": 246, "height": 182, "layer": [
  {"data": {"name": "ln"}, "transform": [{"filter": "datum.p == 'p13'"}], "mark": {"type": "rule", "strokeDash": [5, 3], "strokeWidth": 1.3},
   "encoding": {"x": {"field": "d0", "type": "quantitative", "scale": {"type": "log", "base": 2, "domain": [0.0098, 1024], "nice": false}, "axis": {"values": [0.03, 1, 32, 1024], "labelExpr": "datum.value < 0.1 ? '0.03' : '' + datum.value"}, "title": null}, "x2": {"field": "d1"},
    "y": {"field": "h", "type": "quantitative", "scale": {"domain": [0, 2.02], "nice": false, "zero": false}, "axis": {"values": [0, 0.5, 1, 1.5, 2], "format": ".1f", "labelOffset": {"condition": {"test": "datum.value == 0", "value": -6}, "value": 0}}, "title": null},
    "color": {"field": "c", "type": "nominal", "scale": {"domain": ["SC", "EGF"], "range": ["#111111", "#7d2c88"]}}}},
  {"data": {"name": "ln"}, "transform": [{"filter": "datum.p == 'p13' && datum.vert"}], "mark": {"type": "rule", "strokeDash": [5, 3], "strokeWidth": 1.3},
   "encoding": {"x": {"field": "d1", "type": "quantitative", "title": null}, "y": {"field": "y0", "type": "quantitative", "title": null}, "y2": {"field": "h"}, "color": {"field": "c", "type": "nominal"}}},
  {"data": {"name": "crv"}, "transform": [{"filter": "datum.p == 'p13'"}], "mark": {"type": "line", "interpolate": "monotone", "strokeWidth": 2.3},
   "encoding": {"x": {"field": "d", "type": "quantitative", "title": null}, "y": {"field": "v", "type": "quantitative", "title": null}, "color": {"field": "c", "type": "nominal"}}},
  {"data": {"name": "pts"}, "transform": [{"filter": "datum.p == 'p13' && datum.lo != null"}], "mark": {"type": "rule", "strokeWidth": 2.2},
   "encoding": {"x": {"field": "d", "type": "quantitative", "title": null}, "y": {"field": "lo", "type": "quantitative", "title": null}, "y2": {"field": "hi"}, "color": {"field": "c", "type": "nominal"}}},
  {"data": {"name": "pts"}, "transform": [{"filter": "datum.p == 'p13' && datum.lo != null"}, {"fold": ["lo", "hi"], "as": ["k", "e"]}], "mark": {"type": "tick", "orient": "horizontal", "size": 7, "thickness": 2.2, "opacity": 1},
   "encoding": {"x": {"field": "d", "type": "quantitative", "title": null}, "y": {"field": "e", "type": "quantitative", "title": null}, "color": {"field": "c", "type": "nominal"}}},
  {"data": {"name": "pts"}, "transform": [{"filter": "datum.p == 'p13'"}], "mark": {"type": "point", "filled": true, "size": 55, "opacity": 1},
   "encoding": {"x": {"field": "d", "type": "quantitative", "title": null}, "y": {"field": "v", "type": "quantitative", "title": null}, "color": {"field": "c", "type": "nominal"}}},
  {"data": {"name": "txt"}, "transform": [{"filter": "datum.p == 'p13'"}], "mark": {"type": "text", "align": "left", "baseline": "alphabetic", "font": "Liberation Sans", "fontSize": 27},
   "encoding": {"x": {"field": "d", "type": "quantitative", "title": null}, "y": {"field": "v", "type": "quantitative", "title": null}, "text": {"field": "t"}, "color": {"field": "c", "type": "nominal"}}}
 ]},

 {"width": 124, "height": 194.4, "data": {"values": [{"t": "AKP"}]}, "mark": {"type": "text", "font": "Liberation Sans", "fontSize": 27, "align": "center", "baseline": "middle", "color": "#222222"}, "encoding": {"text": {"field": "t"}}},
 {"width": 94, "height": 242, "data": {"values": []}, "mark": {"type": "point", "opacity": 0}},
 {"width": 242, "height": 182, "layer": [
  {"data": {"name": "ln"}, "transform": [{"filter": "datum.p == 'p21'"}], "mark": {"type": "rule", "strokeDash": [5, 3], "strokeWidth": 1.3},
   "encoding": {"x": {"field": "d0", "type": "quantitative", "scale": {"type": "log", "base": 2, "domain": [0.0884, 1024], "nice": false}, "axis": {"values": [1, 32, 1024], "labelExpr": "datum.value < 0.1 ? '0.03' : '' + datum.value"}, "title": null}, "x2": {"field": "d1"},
    "y": {"field": "h", "type": "quantitative", "scale": {"domain": [0, 1.55], "nice": false, "zero": false}, "axis": {"values": [0, 0.5, 1, 1.5], "format": ".1f", "labelOffset": {"condition": {"test": "datum.value == 0", "value": -6}, "value": 0}}, "title": "relative viability"},
    "color": {"field": "c", "type": "nominal", "scale": {"domain": ["SC", "EGF"], "range": ["#111111", "#7d2c88"]}}}},
  {"data": {"name": "ln"}, "transform": [{"filter": "datum.p == 'p21' && datum.vert"}], "mark": {"type": "rule", "strokeDash": [5, 3], "strokeWidth": 1.3},
   "encoding": {"x": {"field": "d1", "type": "quantitative", "title": null}, "y": {"field": "y0", "type": "quantitative", "title": "relative viability"}, "y2": {"field": "h"}, "color": {"field": "c", "type": "nominal"}}},
  {"data": {"name": "crv"}, "transform": [{"filter": "datum.p == 'p21'"}], "mark": {"type": "line", "interpolate": "monotone", "strokeWidth": 2.3},
   "encoding": {"x": {"field": "d", "type": "quantitative", "title": null}, "y": {"field": "v", "type": "quantitative", "title": "relative viability"}, "color": {"field": "c", "type": "nominal"}}},
  {"data": {"name": "pts"}, "transform": [{"filter": "datum.p == 'p21' && datum.lo != null"}], "mark": {"type": "rule", "strokeWidth": 2.2},
   "encoding": {"x": {"field": "d", "type": "quantitative", "title": null}, "y": {"field": "lo", "type": "quantitative", "title": "relative viability"}, "y2": {"field": "hi"}, "color": {"field": "c", "type": "nominal"}}},
  {"data": {"name": "pts"}, "transform": [{"filter": "datum.p == 'p21' && datum.lo != null"}, {"fold": ["lo", "hi"], "as": ["k", "e"]}], "mark": {"type": "tick", "orient": "horizontal", "size": 7, "thickness": 2.2, "opacity": 1},
   "encoding": {"x": {"field": "d", "type": "quantitative", "title": null}, "y": {"field": "e", "type": "quantitative", "title": "relative viability"}, "color": {"field": "c", "type": "nominal"}}},
  {"data": {"name": "pts"}, "transform": [{"filter": "datum.p == 'p21'"}], "mark": {"type": "point", "filled": true, "size": 55, "opacity": 1},
   "encoding": {"x": {"field": "d", "type": "quantitative", "title": null}, "y": {"field": "v", "type": "quantitative", "title": "relative viability"}, "color": {"field": "c", "type": "nominal"}}},
  {"data": {"name": "txt"}, "transform": [{"filter": "datum.p == 'p21'"}], "mark": {"type": "text", "align": "left", "baseline": "alphabetic", "font": "Liberation Sans", "fontSize": 27},
   "encoding": {"x": {"field": "d", "type": "quantitative", "title": null}, "y": {"field": "v", "type": "quantitative", "title": "relative viability"}, "text": {"field": "t"}, "color": {"field": "c", "type": "nominal"}}}
 ]},
 {"width": 143, "height": 1, "data": {"values": []}, "mark": {"type": "point", "opacity": 0}},
 {"width": 247, "height": 182, "layer": [
  {"data": {"name": "ln"}, "transform": [{"filter": "datum.p == 'p22'"}], "mark": {"type": "rule", "strokeDash": [5, 3], "strokeWidth": 1.3},
   "encoding": {"x": {"field": "d0", "type": "quantitative", "scale": {"type": "log", "base": 2, "domain": [0.0884, 1024], "nice": false}, "axis": {"values": [1, 32, 1024], "labelExpr": "datum.value < 0.1 ? '0.03' : '' + datum.value"}, "title": null}, "x2": {"field": "d1"},
    "y": {"field": "h", "type": "quantitative", "scale": {"domain": [0, 1.083], "nice": false, "zero": false}, "axis": {"values": [0, 0.5, 1], "format": ".1f", "labelOffset": {"condition": {"test": "datum.value == 0", "value": -6}, "value": 0}}, "title": null},
    "color": {"field": "c", "type": "nominal", "scale": {"domain": ["SC", "EGF"], "range": ["#111111", "#7d2c88"]}}}},
  {"data": {"name": "ln"}, "transform": [{"filter": "datum.p == 'p22' && datum.vert"}], "mark": {"type": "rule", "strokeDash": [5, 3], "strokeWidth": 1.3},
   "encoding": {"x": {"field": "d1", "type": "quantitative", "title": null}, "y": {"field": "y0", "type": "quantitative", "title": null}, "y2": {"field": "h"}, "color": {"field": "c", "type": "nominal"}}},
  {"data": {"name": "crv"}, "transform": [{"filter": "datum.p == 'p22'"}], "mark": {"type": "line", "interpolate": "monotone", "strokeWidth": 2.3},
   "encoding": {"x": {"field": "d", "type": "quantitative", "title": null}, "y": {"field": "v", "type": "quantitative", "title": null}, "color": {"field": "c", "type": "nominal"}}},
  {"data": {"name": "pts"}, "transform": [{"filter": "datum.p == 'p22' && datum.lo != null"}], "mark": {"type": "rule", "strokeWidth": 2.2},
   "encoding": {"x": {"field": "d", "type": "quantitative", "title": null}, "y": {"field": "lo", "type": "quantitative", "title": null}, "y2": {"field": "hi"}, "color": {"field": "c", "type": "nominal"}}},
  {"data": {"name": "pts"}, "transform": [{"filter": "datum.p == 'p22' && datum.lo != null"}, {"fold": ["lo", "hi"], "as": ["k", "e"]}], "mark": {"type": "tick", "orient": "horizontal", "size": 7, "thickness": 2.2, "opacity": 1},
   "encoding": {"x": {"field": "d", "type": "quantitative", "title": null}, "y": {"field": "e", "type": "quantitative", "title": null}, "color": {"field": "c", "type": "nominal"}}},
  {"data": {"name": "pts"}, "transform": [{"filter": "datum.p == 'p22'"}], "mark": {"type": "point", "filled": true, "size": 55, "opacity": 1},
   "encoding": {"x": {"field": "d", "type": "quantitative", "title": null}, "y": {"field": "v", "type": "quantitative", "title": null}, "color": {"field": "c", "type": "nominal"}}},
  {"data": {"name": "txt"}, "transform": [{"filter": "datum.p == 'p22'"}], "mark": {"type": "text", "align": "left", "baseline": "alphabetic", "font": "Liberation Sans", "fontSize": 27},
   "encoding": {"x": {"field": "d", "type": "quantitative", "title": null}, "y": {"field": "v", "type": "quantitative", "title": null}, "text": {"field": "t"}, "color": {"field": "c", "type": "nominal"}}}
 ]},
 {"width": 114, "height": 1, "data": {"values": []}, "mark": {"type": "point", "opacity": 0}},
 {"width": 246, "height": 182, "layer": [
  {"data": {"name": "ln"}, "transform": [{"filter": "datum.p == 'p23'"}], "mark": {"type": "rule", "strokeDash": [5, 3], "strokeWidth": 1.3},
   "encoding": {"x": {"field": "d0", "type": "quantitative", "scale": {"type": "log", "base": 2, "domain": [0.0098, 1024], "nice": false}, "axis": {"values": [0.03, 1, 32, 1024], "labelExpr": "datum.value < 0.1 ? '0.03' : '' + datum.value"}, "title": null}, "x2": {"field": "d1"},
    "y": {"field": "h", "type": "quantitative", "scale": {"domain": [0, 2.02], "nice": false, "zero": false}, "axis": {"values": [0, 0.5, 1, 1.5, 2], "format": ".1f", "labelOffset": {"condition": {"test": "datum.value == 0", "value": -6}, "value": 0}}, "title": null},
    "color": {"field": "c", "type": "nominal", "scale": {"domain": ["SC", "EGF"], "range": ["#111111", "#7d2c88"]}}}},
  {"data": {"name": "ln"}, "transform": [{"filter": "datum.p == 'p23' && datum.vert"}], "mark": {"type": "rule", "strokeDash": [5, 3], "strokeWidth": 1.3},
   "encoding": {"x": {"field": "d1", "type": "quantitative", "title": null}, "y": {"field": "y0", "type": "quantitative", "title": null}, "y2": {"field": "h"}, "color": {"field": "c", "type": "nominal"}}},
  {"data": {"name": "crv"}, "transform": [{"filter": "datum.p == 'p23'"}], "mark": {"type": "line", "interpolate": "monotone", "strokeWidth": 2.3},
   "encoding": {"x": {"field": "d", "type": "quantitative", "title": null}, "y": {"field": "v", "type": "quantitative", "title": null}, "color": {"field": "c", "type": "nominal"}}},
  {"data": {"name": "pts"}, "transform": [{"filter": "datum.p == 'p23' && datum.lo != null"}], "mark": {"type": "rule", "strokeWidth": 2.2},
   "encoding": {"x": {"field": "d", "type": "quantitative", "title": null}, "y": {"field": "lo", "type": "quantitative", "title": null}, "y2": {"field": "hi"}, "color": {"field": "c", "type": "nominal"}}},
  {"data": {"name": "pts"}, "transform": [{"filter": "datum.p == 'p23' && datum.lo != null"}, {"fold": ["lo", "hi"], "as": ["k", "e"]}], "mark": {"type": "tick", "orient": "horizontal", "size": 7, "thickness": 2.2, "opacity": 1},
   "encoding": {"x": {"field": "d", "type": "quantitative", "title": null}, "y": {"field": "e", "type": "quantitative", "title": null}, "color": {"field": "c", "type": "nominal"}}},
  {"data": {"name": "pts"}, "transform": [{"filter": "datum.p == 'p23'"}], "mark": {"type": "point", "filled": true, "size": 55, "opacity": 1},
   "encoding": {"x": {"field": "d", "type": "quantitative", "title": null}, "y": {"field": "v", "type": "quantitative", "title": null}, "color": {"field": "c", "type": "nominal"}}},
  {"data": {"name": "txt"}, "transform": [{"filter": "datum.p == 'p23'"}], "mark": {"type": "text", "align": "left", "baseline": "alphabetic", "font": "Liberation Sans", "fontSize": 27},
   "encoding": {"x": {"field": "d", "type": "quantitative", "title": null}, "y": {"field": "v", "type": "quantitative", "title": null}, "text": {"field": "t"}, "color": {"field": "c", "type": "nominal"}}}
 ]},

 {"width": 124, "height": 173.6, "data": {"values": [{"t": "AKP + S\n(4x mut)"}]}, "mark": {"type": "text", "font": "Liberation Sans", "fontSize": 27, "lineHeight": 27, "lineBreak": "\n", "align": "center", "baseline": "middle", "color": "#222222"}, "encoding": {"text": {"field": "t"}}},
 {"width": 94, "height": 1, "data": {"values": []}, "mark": {"type": "point", "opacity": 0}},
 {"width": 217, "height": 192, "layer": [
  {"data": {"name": "ln"}, "transform": [{"filter": "datum.p == 'p31'"}], "mark": {"type": "rule", "strokeDash": [5, 3], "strokeWidth": 1.3},
   "encoding": {"x": {"field": "d0", "type": "quantitative", "scale": {"type": "log", "base": 2, "domain": [0.0884, 1024], "nice": false}, "axis": {"values": [1, 32, 1024], "labelExpr": "datum.value < 0.1 ? '0.03' : '' + datum.value", "titleX": 125}, "title": "SN38 (nM)"}, "x2": {"field": "d1"},
    "y": {"field": "h", "type": "quantitative", "scale": {"domain": [0, 1.26], "nice": false, "zero": false}, "axis": {"values": [0, 0.5, 1], "format": ".1f", "labelOffset": {"condition": {"test": "datum.value == 0", "value": -6}, "value": 0}}, "title": "relative viability"},
    "color": {"field": "c", "type": "nominal", "scale": {"domain": ["SC", "EGF"], "range": ["#111111", "#7d2c88"]}}}},
  {"data": {"name": "ln"}, "transform": [{"filter": "datum.p == 'p31' && datum.vert"}], "mark": {"type": "rule", "strokeDash": [5, 3], "strokeWidth": 1.3},
   "encoding": {"x": {"field": "d1", "type": "quantitative", "title": "SN38 (nM)"}, "y": {"field": "y0", "type": "quantitative", "title": "relative viability"}, "y2": {"field": "h"}, "color": {"field": "c", "type": "nominal"}}},
  {"data": {"name": "crv"}, "transform": [{"filter": "datum.p == 'p31'"}], "mark": {"type": "line", "interpolate": "monotone", "strokeWidth": 2.3},
   "encoding": {"x": {"field": "d", "type": "quantitative", "title": "SN38 (nM)"}, "y": {"field": "v", "type": "quantitative", "title": "relative viability"}, "color": {"field": "c", "type": "nominal"}}},
  {"data": {"name": "pts"}, "transform": [{"filter": "datum.p == 'p31' && datum.lo != null"}], "mark": {"type": "rule", "strokeWidth": 2.2},
   "encoding": {"x": {"field": "d", "type": "quantitative", "title": "SN38 (nM)"}, "y": {"field": "lo", "type": "quantitative", "title": "relative viability"}, "y2": {"field": "hi"}, "color": {"field": "c", "type": "nominal"}}},
  {"data": {"name": "pts"}, "transform": [{"filter": "datum.p == 'p31' && datum.lo != null"}, {"fold": ["lo", "hi"], "as": ["k", "e"]}], "mark": {"type": "tick", "orient": "horizontal", "size": 7, "thickness": 2.2, "opacity": 1},
   "encoding": {"x": {"field": "d", "type": "quantitative", "title": "SN38 (nM)"}, "y": {"field": "e", "type": "quantitative", "title": "relative viability"}, "color": {"field": "c", "type": "nominal"}}},
  {"data": {"name": "pts"}, "transform": [{"filter": "datum.p == 'p31'"}], "mark": {"type": "point", "filled": true, "size": 55, "opacity": 1},
   "encoding": {"x": {"field": "d", "type": "quantitative", "title": "SN38 (nM)"}, "y": {"field": "v", "type": "quantitative", "title": "relative viability"}, "color": {"field": "c", "type": "nominal"}}},
  {"data": {"name": "txt"}, "transform": [{"filter": "datum.p == 'p31'"}], "mark": {"type": "text", "align": "left", "baseline": "alphabetic", "font": "Liberation Sans", "fontSize": 27},
   "encoding": {"x": {"field": "d", "type": "quantitative", "title": "SN38 (nM)"}, "y": {"field": "v", "type": "quantitative", "title": "relative viability"}, "text": {"field": "t"}, "color": {"field": "c", "type": "nominal"}}}
 ]},
 {"width": 143, "height": 1, "data": {"values": []}, "mark": {"type": "point", "opacity": 0}},
 {"width": 247, "height": 192, "layer": [
  {"data": {"name": "ln"}, "transform": [{"filter": "datum.p == 'p32'"}], "mark": {"type": "rule", "strokeDash": [5, 3], "strokeWidth": 1.3},
   "encoding": {"x": {"field": "d0", "type": "quantitative", "scale": {"type": "log", "base": 2, "domain": [0.0884, 1024], "nice": false}, "axis": {"values": [1, 32, 1024], "labelExpr": "datum.value < 0.1 ? '0.03' : '' + datum.value", "titleX": 127}, "title": "5FU (μM)"}, "x2": {"field": "d1"},
    "y": {"field": "h", "type": "quantitative", "scale": {"domain": [0, 1.097], "nice": false, "zero": false}, "axis": {"values": [0, 0.5, 1], "format": ".1f", "labelOffset": {"condition": {"test": "datum.value == 0", "value": -6}, "value": 0}}, "title": null},
    "color": {"field": "c", "type": "nominal", "scale": {"domain": ["SC", "EGF"], "range": ["#111111", "#7d2c88"]}}}},
  {"data": {"name": "ln"}, "transform": [{"filter": "datum.p == 'p32' && datum.vert"}], "mark": {"type": "rule", "strokeDash": [5, 3], "strokeWidth": 1.3},
   "encoding": {"x": {"field": "d1", "type": "quantitative", "title": "5FU (μM)"}, "y": {"field": "y0", "type": "quantitative", "title": null}, "y2": {"field": "h"}, "color": {"field": "c", "type": "nominal"}}},
  {"data": {"name": "crv"}, "transform": [{"filter": "datum.p == 'p32'"}], "mark": {"type": "line", "interpolate": "monotone", "strokeWidth": 2.3},
   "encoding": {"x": {"field": "d", "type": "quantitative", "title": "5FU (μM)"}, "y": {"field": "v", "type": "quantitative", "title": null}, "color": {"field": "c", "type": "nominal"}}},
  {"data": {"name": "pts"}, "transform": [{"filter": "datum.p == 'p32' && datum.lo != null"}], "mark": {"type": "rule", "strokeWidth": 2.2},
   "encoding": {"x": {"field": "d", "type": "quantitative", "title": "5FU (μM)"}, "y": {"field": "lo", "type": "quantitative", "title": null}, "y2": {"field": "hi"}, "color": {"field": "c", "type": "nominal"}}},
  {"data": {"name": "pts"}, "transform": [{"filter": "datum.p == 'p32' && datum.lo != null"}, {"fold": ["lo", "hi"], "as": ["k", "e"]}], "mark": {"type": "tick", "orient": "horizontal", "size": 7, "thickness": 2.2, "opacity": 1},
   "encoding": {"x": {"field": "d", "type": "quantitative", "title": "5FU (μM)"}, "y": {"field": "e", "type": "quantitative", "title": null}, "color": {"field": "c", "type": "nominal"}}},
  {"data": {"name": "pts"}, "transform": [{"filter": "datum.p == 'p32'"}], "mark": {"type": "point", "filled": true, "size": 55, "opacity": 1},
   "encoding": {"x": {"field": "d", "type": "quantitative", "title": "5FU (μM)"}, "y": {"field": "v", "type": "quantitative", "title": null}, "color": {"field": "c", "type": "nominal"}}},
  {"data": {"name": "txt"}, "transform": [{"filter": "datum.p == 'p32'"}], "mark": {"type": "text", "align": "left", "baseline": "alphabetic", "font": "Liberation Sans", "fontSize": 27},
   "encoding": {"x": {"field": "d", "type": "quantitative", "title": "5FU (μM)"}, "y": {"field": "v", "type": "quantitative", "title": null}, "text": {"field": "t"}, "color": {"field": "c", "type": "nominal"}}}
 ]},
 {"width": 114, "height": 1, "data": {"values": []}, "mark": {"type": "point", "opacity": 0}},
 {"width": 246, "height": 192, "layer": [
  {"data": {"name": "ln"}, "transform": [{"filter": "datum.p == 'p33'"}], "mark": {"type": "rule", "strokeDash": [5, 3], "strokeWidth": 1.3},
   "encoding": {"x": {"field": "d0", "type": "quantitative", "scale": {"type": "log", "base": 2, "domain": [0.0098, 1024], "nice": false}, "axis": {"values": [0.03, 1, 32, 1024], "labelExpr": "datum.value < 0.1 ? '0.03' : '' + datum.value", "titleX": 138}, "title": "Oxaliplatin (μM)"}, "x2": {"field": "d1"},
    "y": {"field": "h", "type": "quantitative", "scale": {"domain": [-0.05, 1.219], "nice": false, "zero": false}, "axis": {"values": [0, 0.5, 1], "format": ".1f"}, "title": null},
    "color": {"field": "c", "type": "nominal", "scale": {"domain": ["SC", "EGF"], "range": ["#111111", "#7d2c88"]}}}},
  {"data": {"name": "ln"}, "transform": [{"filter": "datum.p == 'p33' && datum.vert"}], "mark": {"type": "rule", "strokeDash": [5, 3], "strokeWidth": 1.3},
   "encoding": {"x": {"field": "d1", "type": "quantitative", "title": "Oxaliplatin (μM)"}, "y": {"field": "y0", "type": "quantitative", "title": null}, "y2": {"field": "h"}, "color": {"field": "c", "type": "nominal"}}},
  {"data": {"name": "crv"}, "transform": [{"filter": "datum.p == 'p33'"}], "mark": {"type": "line", "interpolate": "monotone", "strokeWidth": 2.3},
   "encoding": {"x": {"field": "d", "type": "quantitative", "title": "Oxaliplatin (μM)"}, "y": {"field": "v", "type": "quantitative", "title": null}, "color": {"field": "c", "type": "nominal"}}},
  {"data": {"name": "pts"}, "transform": [{"filter": "datum.p == 'p33' && datum.lo != null"}], "mark": {"type": "rule", "strokeWidth": 2.2},
   "encoding": {"x": {"field": "d", "type": "quantitative", "title": "Oxaliplatin (μM)"}, "y": {"field": "lo", "type": "quantitative", "title": null}, "y2": {"field": "hi"}, "color": {"field": "c", "type": "nominal"}}},
  {"data": {"name": "pts"}, "transform": [{"filter": "datum.p == 'p33' && datum.lo != null"}, {"fold": ["lo", "hi"], "as": ["k", "e"]}], "mark": {"type": "tick", "orient": "horizontal", "size": 7, "thickness": 2.2, "opacity": 1},
   "encoding": {"x": {"field": "d", "type": "quantitative", "title": "Oxaliplatin (μM)"}, "y": {"field": "e", "type": "quantitative", "title": null}, "color": {"field": "c", "type": "nominal"}}},
  {"data": {"name": "pts"}, "transform": [{"filter": "datum.p == 'p33'"}], "mark": {"type": "point", "filled": true, "size": 55, "opacity": 1},
   "encoding": {"x": {"field": "d", "type": "quantitative", "title": "Oxaliplatin (μM)"}, "y": {"field": "v", "type": "quantitative", "title": null}, "color": {"field": "c", "type": "nominal"}}},
  {"data": {"name": "txt"}, "transform": [{"filter": "datum.p == 'p33'"}], "mark": {"type": "text", "align": "left", "baseline": "alphabetic", "font": "Liberation Sans", "fontSize": 27},
   "encoding": {"x": {"field": "d", "type": "quantitative", "title": "Oxaliplatin (μM)"}, "y": {"field": "v", "type": "quantitative", "title": null}, "text": {"field": "t"}, "color": {"field": "c", "type": "nominal"}}}
 ]}
]
}
